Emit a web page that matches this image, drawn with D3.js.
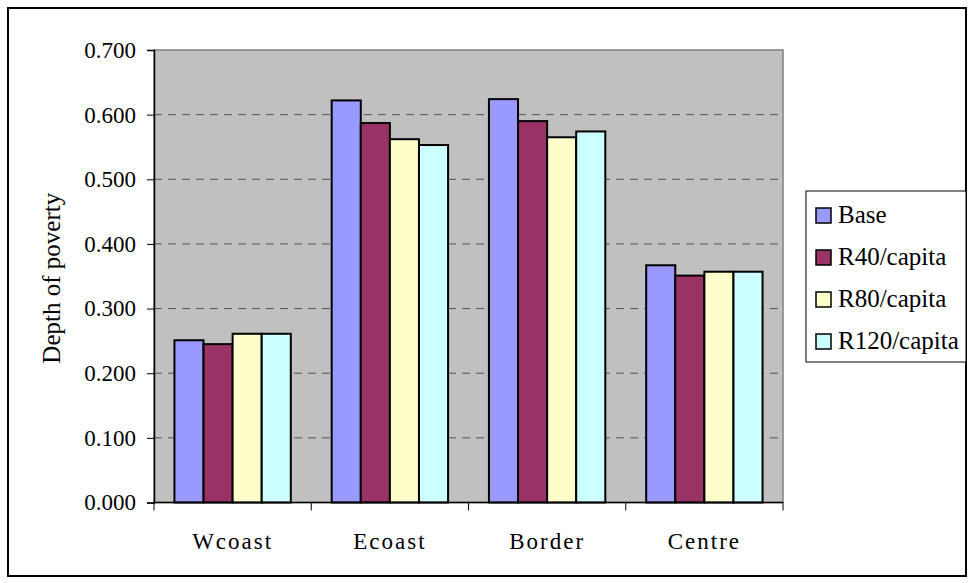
<!DOCTYPE html>
<html><head><meta charset="utf-8">
<script src="https://cdn.jsdelivr.net/npm/d3@7/dist/d3.min.js"></script>
<style>body{margin:0;background:#fff}svg{display:block}text{font-family:'Liberation Serif','Tinos','Times New Roman','DejaVu Serif',serif;fill:#000}</style>
</head><body>
<svg id="c" width="968" height="583"></svg>
<script>
const categories = ["Wcoast","Ecoast","Border","Centre"];
const seriesNames = ["Base","R40/capita","R80/capita","R120/capita"];
const base = [0.251,0.622,0.624,0.367];
const r40 = [0.245,0.587,0.590,0.351];
const r80 = [0.261,0.562,0.565,0.357];
const r120 = [0.261,0.553,0.574,0.357];
const colors = ["#9999ff","#993366","#ffffcc","#ccffff"];
const yTicks = [0,0.1,0.2,0.3,0.4,0.5,0.6,0.7];
const seriesValues = [base,r40,r80,r120];

const svg = d3.select("#c");
const L=154,R=783,T=50,B=502.5;
svg.append("rect").attr("x",8).attr("y",8).attr("width",958).attr("height",568)
  .attr("fill","#fff").attr("stroke","#000").attr("stroke-width",2);
svg.append("rect").attr("x",L).attr("y",T).attr("width",R-L).attr("height",B-T)
  .attr("fill","#c0c0c0").attr("stroke","#808080").attr("stroke-width",1.5);

const y = d3.scaleLinear().domain([0,0.7]).range([B,T]);
const x0 = d3.scaleBand().domain(categories).range([L,R]).paddingInner(0.26).paddingOuter(0.13);
const x1 = d3.scaleBand().domain(seriesNames).range([0,x0.bandwidth()]);

svg.append("g").selectAll("line").data(yTicks.filter(d=>d>0&&d<0.7)).join("line")
  .attr("x1",L).attr("x2",R).attr("y1",d=>y(d)).attr("y2",d=>y(d))
  .attr("stroke","#555").attr("stroke-width",1).attr("stroke-dasharray","8,6");

const g = svg.append("g");
categories.forEach((c,ci)=>{
  seriesNames.forEach((s,si)=>{
    const v = seriesValues[si][ci];
    g.append("rect").attr("x",x0(c)+x1(s)).attr("y",y(v))
      .attr("width",x1.bandwidth()).attr("height",y(0)-y(v))
      .attr("fill",colors[si]).attr("stroke","#000").attr("stroke-width",2);
  });
});

const ya = d3.axisLeft(y).tickValues(yTicks).tickFormat(d3.format(".3f")).tickSize(7).tickPadding(11);
const yg = svg.append("g").attr("transform",`translate(${L},0)`).call(ya);
yg.attr("font-family",null).attr("font-size",null);
yg.select(".domain").attr("stroke","#000").attr("stroke-width",1.5);
yg.selectAll("text").style("font-size","23px");

const xs = d3.scalePoint().domain(d3.range(5)).range([L,R]);
const xg = svg.append("g").attr("transform",`translate(0,${B})`);
xg.append("line").attr("x1",L).attr("x2",R).attr("stroke","#000").attr("stroke-width",1.5);
xg.selectAll("line.t").data(d3.range(5)).join("line").attr("class","t")
  .attr("x1",d=>xs(d)).attr("x2",d=>xs(d)).attr("y1",0).attr("y2",8).attr("stroke","#000");
xg.selectAll("text").data(categories).join("text")
  .attr("x",d=>x0(d)+x0.bandwidth()/2).attr("y",46).attr("text-anchor","middle")
  .style("font-size","23px").style("letter-spacing","2px").text(d=>d);

svg.append("text").attr("transform",`translate(60,${(T+B)/2+2}) rotate(-90)`)
  .attr("text-anchor","middle").style("font-size","25px").text("Depth of poverty");

const lg = svg.append("g");
lg.append("rect").attr("x",806).attr("y",191).attr("width",160).attr("height",171)
  .attr("fill","#fff").attr("stroke","#000").attr("stroke-width",1);
seriesNames.forEach((s,i)=>{
  const cy = 216+i*42;
  lg.append("rect").attr("x",816).attr("y",cy-8).attr("width",15).attr("height",15)
    .attr("fill",colors[i]).attr("stroke","#000").attr("stroke-width",1.5);
  lg.append("text").attr("x",838).attr("y",cy+7).style("font-size","25px").text(s);
});
</script>
</body></html>
